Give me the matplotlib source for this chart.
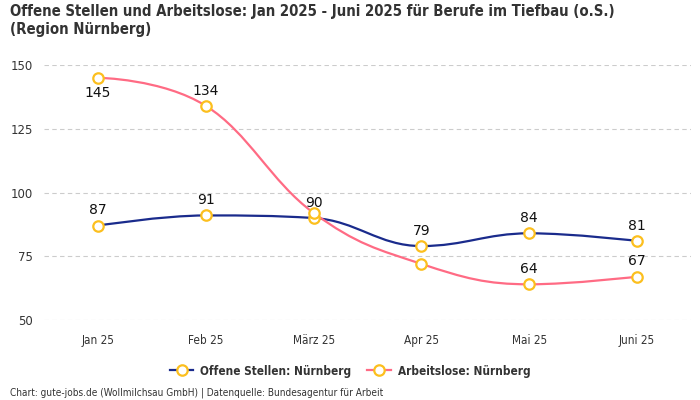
import matplotlib
matplotlib.use("Agg")
import matplotlib.pyplot as plt
import numpy as np
from matplotlib.path import Path
from matplotlib.patches import PathPatch
from matplotlib.lines import Line2D

months = ["Jan 25", "Feb 25", "März 25", "Apr 25", "Mai 25", "Juni 25"]
offene_stellen = [87, 91, 90, 79, 84, 81]
arbeitslose = [145, 134, 92, 72, 64, 67]
# which data labels are visible, and whether above (1) or below (-1)
labels_offene = [1, 1, 1, 1, 1, 1]
labels_arbeitslose = [-1, 1, 0, 0, 1, 1]

blue = "#1a2b8c"
pink = "#ff6b84"
marker_edge = "#fcbf1e"
text_col = "#333333"

plt.rcParams['font.family'] = ['DejaVu Sans']
cond = ['DejaVu Sans Condensed', 'DejaVu Sans']


def spline_path(xs, ys, smoothing=1.5):
    # Highcharts-like spline, control points built from neighbours
    n = len(xs)
    denom = smoothing + 1
    left = [None] * n
    right = [None] * n
    for i in range(1, n - 1):
        px, py = xs[i], ys[i]
        lx, ly = xs[i - 1], ys[i - 1]
        nx, ny = xs[i + 1], ys[i + 1]
        lcx = (smoothing * px + lx) / denom
        lcy = (smoothing * py + ly) / denom
        rcx = (smoothing * px + nx) / denom
        rcy = (smoothing * py + ny) / denom
        corr = (rcy - lcy) * (rcx - px) / (rcx - lcx) + py - rcy
        lcy += corr
        rcy += corr
        if lcy > ly and lcy > py:
            lcy = max(ly, py)
            rcy = 2 * py - lcy
        elif lcy < ly and lcy < py:
            lcy = min(ly, py)
            rcy = 2 * py - lcy
        if rcy > ny and rcy > py:
            rcy = max(ny, py)
            lcy = 2 * py - rcy
        elif rcy < ny and rcy < py:
            rcy = min(ny, py)
            lcy = 2 * py - rcy
        left[i] = (lcx, lcy)
        right[i] = (rcx, rcy)
    verts = [(xs[0], ys[0])]
    codes = [Path.MOVETO]
    for i in range(1, n):
        c1 = right[i - 1] if right[i - 1] else (xs[i - 1], ys[i - 1])
        c2 = left[i] if left[i] else (xs[i], ys[i])
        verts += [c1, c2, (xs[i], ys[i])]
        codes += [Path.CURVE4] * 3
    return Path(verts, codes)


fig = plt.figure(figsize=(7, 4), dpi=100)
ax = fig.add_axes([44 / 700, 0.2, 647 / 700, 0.6375])

x = np.arange(len(months))
for vals, col, shown in [(offene_stellen, blue, labels_offene),
                         (arbeitslose, pink, labels_arbeitslose)]:
    ax.add_patch(PathPatch(spline_path(x, vals), facecolor='none',
                           edgecolor=col, lw=1.6, zorder=3))
    ax.plot(x, vals, linestyle='none', marker='o', markersize=7.5,
            markerfacecolor='white', markeredgecolor=marker_edge,
            markeredgewidth=1.6, zorder=4)
    for xi, v, s in zip(x, vals, shown):
        if s == 0:
            continue
        ax.annotate(str(v), (xi, v), xytext=(0, 11 * s), textcoords='offset points',
                    ha='center', va='center', fontsize=10, color='#111111',
                    zorder=5)

ax.set_xlim(-0.5, len(months) - 0.5)
ax.set_ylim(50, 150)
ax.set_yticks([50, 75, 100, 125, 150])
ax.set_xticks(x)
ax.set_xticklabels(months)
ax.tick_params(axis='both', length=0, labelsize=8.5, colors=text_col)
ax.tick_params(axis='y', pad=8)
ax.tick_params(axis='x', pad=10)
for lab in ax.get_xticklabels():
    lab.set_family(cond)
    lab.set_fontstretch('condensed')
ax.grid(axis='y', linestyle=(0, (4, 3)), color='#cccccc', lw=0.8)
ax.set_axisbelow(True)
for sp in ax.spines.values():
    sp.set_visible(False)

fig.text(10 / 700, 1 - 4 / 400,
         "Offene Stellen und Arbeitslose: Jan 2025 - Juni 2025 für Berufe im Tiefbau (o.S.)\n(Region Nürnberg)",
         ha='left', va='top', fontsize=10.7, fontweight='bold', color=text_col,
         linespacing=1.25, family=cond, fontstretch='condensed')

handles = [Line2D([], [], color=blue, lw=1.6, marker='o', markersize=7.5,
                  markerfacecolor='white', markeredgecolor=marker_edge, markeredgewidth=1.6),
           Line2D([], [], color=pink, lw=1.6, marker='o', markersize=7.5,
                  markerfacecolor='white', markeredgecolor=marker_edge, markeredgewidth=1.6)]
fig.legend(handles, ["Offene Stellen: Nürnberg", "Arbeitslose: Nürnberg"],
           loc='center', bbox_to_anchor=(350 / 700, 1 - 371 / 400), ncol=2,
           frameon=False, handlelength=2.0, columnspacing=1.3, handletextpad=0.6,
           prop={'weight': 'bold', 'size': 8.5, 'family': cond, 'stretch': 'condensed'})
for t in fig.legends[0].get_texts():
    t.set_color(text_col)

fig.text(10 / 700, 1 - 393 / 400,
         "Chart: gute-jobs.de (Wollmilchsau GmbH) | Datenquelle: Bundesagentur für Arbeit",
         ha='left', va='center', fontsize=7.2, color=text_col, family=cond,
         fontstretch='condensed')

fig.savefig("out.png", dpi=100)
